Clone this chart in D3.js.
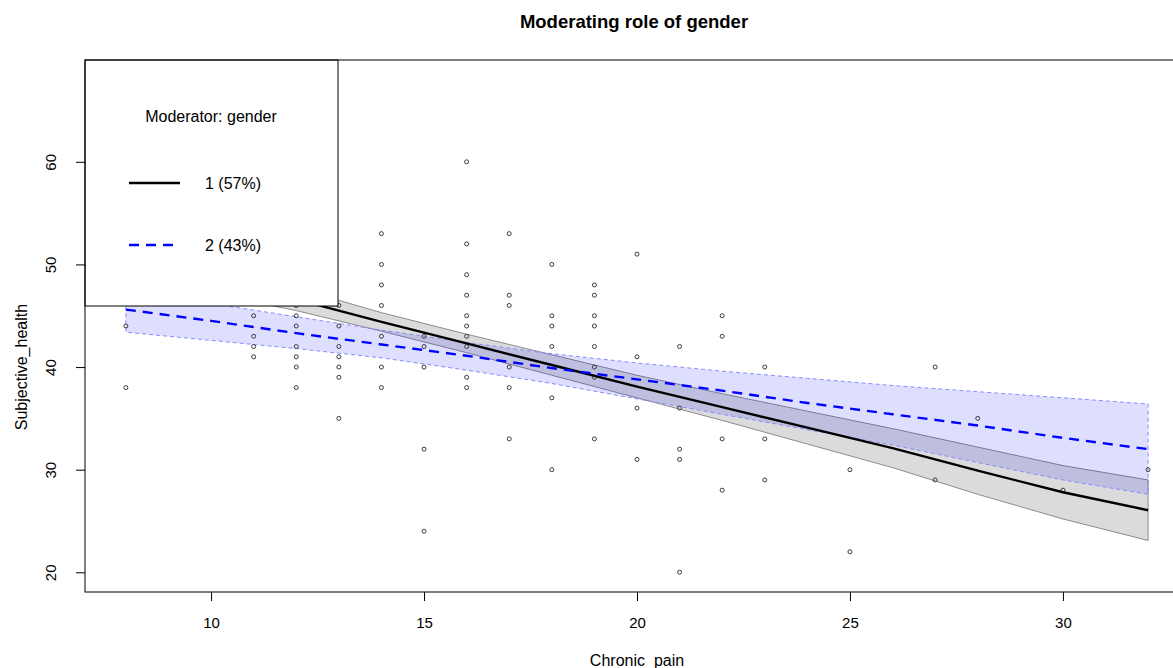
<html>
  <head>
    <meta charset="utf-8">
    <title>Moderating role of gender</title>
  </head>
  <style>
    body { margin: 0; background: #fff; }
    text { font-family: "Liberation Sans", Arial, sans-serif; fill: #000; }
    .pt { fill: none; stroke: #3a3a3a; stroke-width: 1px; }
  </style>
  <body>
    <div id="chart"></div>
    <script src="https://d3js.org/d3.v7.min.js" charset="utf-8"></script>
    <script>

      // observed points (Chronic_pain, Subjective_health)
      var painVals   = [ 8, 8,
                         11,11,11,11,
                         12,12,12,12,12,12,12,
                         13,13,13,13,13,13,13,
                         14,14,14,14,14,14,14,
                         15,15,15,15,15,
                         16,16,16,16,16,16,16,16,16,16,
                         17,17,17,17,17,17,
                         18,18,18,18,18,18,
                         19,19,19,19,19,19,19,19,
                         20,20,20,20,
                         21,21,21,21,21,
                         22,22,22,22,
                         23,23,23,
                         25,25,
                         27,27,
                         28, 30, 32 ];
      var healthVals = [ 44,38,
                         45,43,42,41,
                         46,45,44,42,41,40,38,
                         46,44,42,41,40,39,35,
                         53,50,48,46,43,40,38,
                         43,42,40,32,24,
                         60,52,49,47,45,44,43,42,39,38,
                         53,47,46,40,38,33,
                         50,45,44,42,37,30,
                         48,47,45,44,42,40,39,33,
                         51,41,36,31,
                         42,36,32,31,20,
                         45,43,33,28,
                         40,33,29,
                         30,22,
                         40,29,
                         35, 28, 30 ];

      // fitted lines and bands, read at these x values
      var fitX  = [8, 10, 12, 14, 16, 18, 20, 22, 24, 26, 28, 30, 32];
      var fit1  = [50.7, 48.6, 46.6, 44.4, 42.3, 40.2, 38.1, 36.1, 34.1, 32.1, 29.9, 27.8, 26.05];
      var upr1  = [52.4, 50.0, 47.7, 45.3, 43.2, 41.2, 39.2, 37.4, 35.7, 34.0, 32.2, 30.4, 29.0];
      var lwr1  = [49.0, 47.2, 45.5, 43.5, 41.4, 39.2, 37.0, 34.8, 32.5, 30.2, 27.6, 25.2, 23.1];
      var fit2  = [45.6, 44.5, 43.3, 42.2, 41.1, 39.9, 38.8, 37.7, 36.5, 35.4, 34.3, 33.1, 32.0];
      var upr2  = [47.6, 46.2, 44.9, 43.6, 42.4, 41.3, 40.4, 39.6, 38.9, 38.2, 37.6, 37.0, 36.4];
      var lwr2  = [43.4, 42.6, 41.8, 40.9, 39.7, 38.4, 36.9, 35.4, 33.9, 32.4, 30.7, 29.0, 27.6];

      var xTicks      = [10, 15, 20, 25, 30];
      var yTicks      = [20, 30, 40, 50, 60];
      var legendLbls  = ["1 (57%)", "2 (43%)"];

      var outerWidth  = 1173,
          outerHeight = 668,
          plot        = { left: 85, top: 60, right: 1189, bottom: 592 };

      var x = d3.scaleLinear()
                .domain([7.04, 32.96])
                .range([plot.left, plot.right]);

      var y = d3.scaleLinear()
                .domain([18.08, 69.92])
                .range([plot.bottom, plot.top]);

      var svg = d3.select("#chart")
                  .append("svg")
                  .attr("width", outerWidth)
                  .attr("height", outerHeight);

      svg.append("defs").append("clipPath")
         .attr("id", "clip")
         .append("rect")
         .attr("x", plot.left).attr("y", plot.top)
         .attr("width", plot.right - plot.left)
         .attr("height", plot.bottom - plot.top);

      var g = svg.append("g").attr("clip-path", "url(#clip)");

      var band = d3.area()
                   .x(function(d) { return x(d.x); })
                   .y0(function(d) { return y(d.lo); })
                   .y1(function(d) { return y(d.hi); });

      var line = d3.line()
                   .x(function(d) { return x(d.x); })
                   .y(function(d) { return y(d.y); });

      function rows(lo, hi, fit) {
        return fitX.map(function(v, i) { return { x: v, lo: lo[i], hi: hi[i], y: fit[i] }; });
      }
      var g1 = rows(lwr1, upr1, fit1),
          g2 = rows(lwr2, upr2, fit2);

      // outline of a band as closed polygon
      function outline(d) {
        var top = d.map(function(r) { return [x(r.x), y(r.hi)]; }),
            bot = d.slice().reverse().map(function(r) { return [x(r.x), y(r.lo)]; });
        return "M" + top.concat(bot).join("L") + "Z";
      }

      // gender 1 band
      g.append("path")
       .attr("d", band(g1))
       .attr("fill", "rgba(0,0,0,0.14)");
      g.append("path")
       .attr("d", outline(g1))
       .attr("fill", "none")
       .attr("stroke", "#8c8c8c")
       .attr("stroke-width", 1);

      // gender 2 band
      g.append("path")
       .attr("d", band(g2))
       .attr("fill", "rgba(0,0,255,0.13)");
      g.append("path")
       .attr("d", outline(g2))
       .attr("fill", "none")
       .attr("stroke", "#8a8aff")
       .attr("stroke-width", 1)
       .attr("stroke-dasharray", "4,3");

      // points
      g.selectAll("circle.pt")
       .data(painVals)
       .enter()
       .append("circle")
       .attr("class", "pt")
       .attr("cx", function(d) { return x(d); })
       .attr("cy", function(d, i) { return y(healthVals[i]); })
       .attr("r", 2);

      // fitted lines
      g.append("path")
       .attr("d", line(g1))
       .attr("fill", "none")
       .attr("stroke", "#000")
       .attr("stroke-width", 2.4);
      g.append("path")
       .attr("d", line(g2))
       .attr("fill", "none")
       .attr("stroke", "#0000ff")
       .attr("stroke-width", 2.4)
       .attr("stroke-dasharray", "10,7");

      /*
        legend box (white, covers the plot)
      */
      var leg = svg.append("g");
      leg.append("rect")
         .attr("x", plot.left).attr("y", plot.top)
         .attr("width", 253).attr("height", 246)
         .attr("fill", "#fff")
         .attr("stroke", "#000")
         .attr("stroke-width", 1);
      leg.append("text")
         .attr("x", 211).attr("y", 122)
         .attr("text-anchor", "middle")
         .style("font-size", "16px")
         .text("Moderator: gender");

      var legStyles = [ { stroke: "#000", dash: null },
                        { stroke: "#0000ff", dash: "10,7" } ];
      legendLbls.forEach(function(lbl, i) {
        var ly = 183 + i * 62;
        leg.append("line")
           .attr("x1", 129).attr("x2", i ? 176 : 180)
           .attr("y1", ly).attr("y2", ly)
           .attr("stroke", legStyles[i].stroke)
           .attr("stroke-width", 2.4)
           .attr("stroke-dasharray", legStyles[i].dash);
        leg.append("text")
           .attr("x", 205).attr("y", ly + 6)
           .style("font-size", "16px")
           .text(lbl);
      });

      // plot frame
      svg.append("rect")
         .attr("x", plot.left).attr("y", plot.top)
         .attr("width", plot.right - plot.left)
         .attr("height", plot.bottom - plot.top)
         .attr("fill", "none")
         .attr("stroke", "#000")
         .attr("stroke-width", 1);

      // x axis
      var xAxis = d3.axisBottom(x).tickValues(xTicks).tickSize(9).tickPadding(16);
      var gX = svg.append("g")
                  .attr("transform", "translate(0," + plot.bottom + ")")
                  .call(xAxis);
      gX.select(".domain").remove();
      gX.selectAll("text")
        .style("font-family", "'Liberation Sans', Arial, sans-serif")
        .style("font-size", "15px")
        .attr("fill", "#000");

      // y axis, labels rotated like base R
      var yAxis = d3.axisLeft(y).tickValues(yTicks).tickSize(9);
      var gY = svg.append("g")
                  .attr("transform", "translate(" + plot.left + ",0)")
                  .call(yAxis);
      gY.select(".domain").remove();
      gY.selectAll("text")
        .attr("x", null).attr("dy", null)
        .attr("transform", "translate(-29,0) rotate(-90)")
        .attr("text-anchor", "middle")
        .style("font-family", "'Liberation Sans', Arial, sans-serif")
        .style("font-size", "15px")
        .attr("fill", "#000");

      // titles
      svg.append("text")
         .attr("x", 634).attr("y", 28)
         .attr("text-anchor", "middle")
         .style("font-size", "18.5px")
         .style("font-weight", "bold")
         .text("Moderating role of gender");

      svg.append("text")
         .attr("x", 637).attr("y", 666)
         .attr("text-anchor", "middle")
         .style("font-size", "16px")
         .text("Chronic_pain");

      svg.append("text")
         .attr("transform", "translate(27," + y(40) + ") rotate(-90)")
         .attr("text-anchor", "middle")
         .style("font-size", "16px")
         .text("Subjective_health");

    </script>
  </body>
</html>
